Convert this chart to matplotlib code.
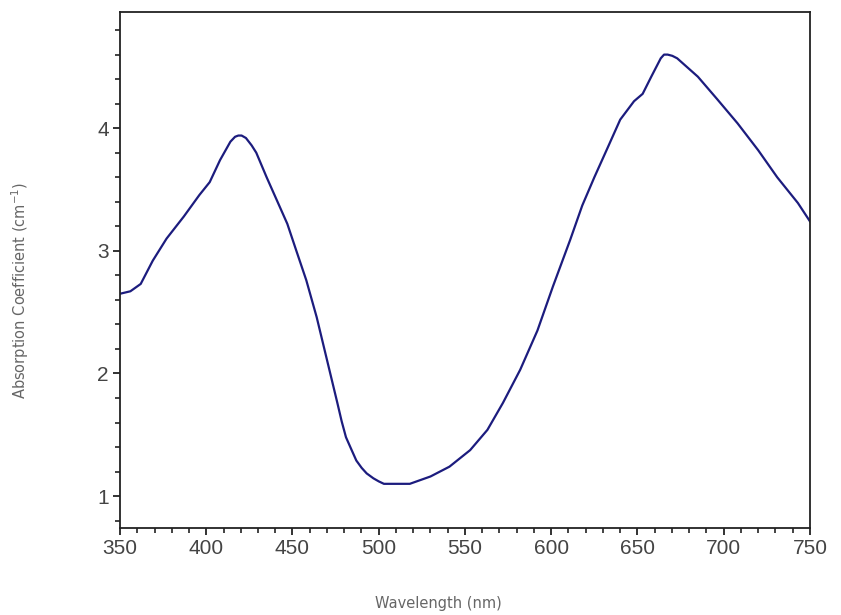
import matplotlib
matplotlib.use("Agg")
import matplotlib.pyplot as plt
from matplotlib.ticker import MultipleLocator

# values
wavelength = [350, 356, 362, 369, 377, 387, 396, 402, 408, 414, 416.7, 418.6,
              420.5, 423, 426.3, 429, 435, 441, 447, 452, 458, 464, 470, 476,
              478.5, 481, 484.3, 487, 490.1, 493, 496.9, 500, 503, 510, 518,
              530, 541, 553, 563, 572, 582, 592, 601, 611, 618, 625, 633, 640,
              648, 653, 658, 663.5, 665.4, 667.5, 670.2, 673, 685, 696, 708,
              720, 731, 743, 750]
absorption = [2.65, 2.67, 2.73, 2.92, 3.10, 3.28, 3.455, 3.56, 3.74, 3.89,
              3.93, 3.94, 3.94, 3.92, 3.86, 3.80, 3.60, 3.41, 3.22, 3.01,
              2.76, 2.46, 2.11, 1.76, 1.61, 1.48, 1.375, 1.29, 1.23, 1.185,
              1.145, 1.12, 1.10, 1.10, 1.10, 1.16, 1.24, 1.375, 1.54, 1.76,
              2.03, 2.35, 2.71, 3.09, 3.37, 3.60, 3.85, 4.07, 4.22, 4.28,
              4.42, 4.57, 4.60, 4.60, 4.59, 4.57, 4.42, 4.24, 4.04, 3.82,
              3.60, 3.39, 3.24]

x_ticks = [350, 400, 450, 500, 550, 600, 650, 700, 750]
y_ticks = [1, 2, 3, 4]

plt.rcParams["font.family"] = ["Liberation Sans", "DejaVu Sans"]

fig = plt.figure(figsize=(8.41, 6.15), dpi=100)
ax = fig.add_axes([0.1427, 0.1415, 0.8204, 0.8395])

ax.plot(wavelength, absorption, color="#1c1c7e", lw=1.6,
        solid_joinstyle="round")

ax.set_xlim(350, 750)
ax.set_ylim(0.74, 4.95)
ax.set_xticks(x_ticks)
ax.set_yticks(y_ticks)
ax.xaxis.set_minor_locator(MultipleLocator(10))
ax.yaxis.set_minor_locator(MultipleLocator(0.2))

for s in ax.spines.values():
    s.set_linewidth(1.3)
    s.set_color("#222222")

ax.tick_params(which="major", direction="out", length=5, width=1.3,
               labelsize=15, labelcolor="#444444", color="#222222", pad=3)
ax.tick_params(which="minor", direction="out", length=3.5, width=1.2,
               color="#222222")
for lab in ax.get_xticklabels() + ax.get_yticklabels():
    lab.set_family("Liberation Sans")

fig.text(0.521, 0.006, "Wavelength (nm)", ha="center", va="bottom",
         fontsize=10.5, color="#666666", family="DejaVu Sans")
fig.text(0.024, 0.528, "Absorption Coefficient (cm$^{-1}$)", rotation=90,
         ha="center", va="center", fontsize=10.5, color="#666666",
         family="DejaVu Sans")

fig.savefig("out.png", dpi=100)
